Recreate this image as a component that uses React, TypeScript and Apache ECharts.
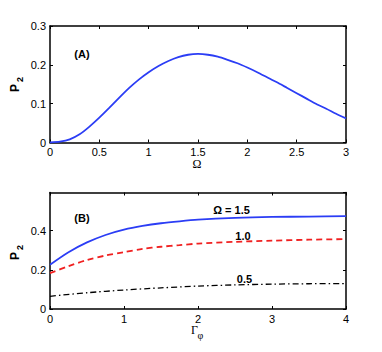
import React, { useEffect, useRef } from "react";
import * as echarts from "echarts";

// Panel (A): P2 vs Omega
const omegaValues = [0, 0.1, 0.2, 0.3, 0.4, 0.5, 0.6, 0.7, 0.8, 0.9, 1.0, 1.1, 1.2, 1.3, 1.4, 1.5, 1.6, 1.7, 1.8, 1.9, 2.0, 2.1, 2.2, 2.3, 2.4, 2.5, 2.6, 2.7, 2.8, 2.9, 3.0];
const p2VsOmega = [0, 0.002, 0.008, 0.021, 0.041, 0.064, 0.089, 0.115, 0.14, 0.162, 0.181, 0.197, 0.21, 0.22, 0.226, 0.228, 0.226, 0.221, 0.213, 0.204, 0.193, 0.181, 0.168, 0.155, 0.141, 0.127, 0.113, 0.099, 0.087, 0.074, 0.062];

// Panel (B): P2 vs Gamma_phi
const gammaValues = [0, 0.25, 0.5, 0.75, 1, 1.25, 1.5, 1.75, 2, 2.5, 3, 3.5, 4];
const p2Omega15 = [0.226, 0.29, 0.34, 0.378, 0.405, 0.424, 0.438, 0.448, 0.456, 0.465, 0.47, 0.472, 0.474];
const p2Omega10 = [0.183, 0.219, 0.25, 0.273, 0.29, 0.307, 0.318, 0.326, 0.334, 0.343, 0.349, 0.354, 0.357];
const gammaValuesLow = [0, 0.5, 1, 1.5, 2, 2.5, 3, 3.5, 4];
const p2Omega05 = [0.065, 0.083, 0.097, 0.108, 0.117, 0.123, 0.127, 0.129, 0.13];

const curveLabels = ["Ω = 1.5", "1.0", "0.5"];

const FONT = "Liberation Sans, Arial, Helvetica, sans-serif";
const SERIF = "Liberation Serif, Times New Roman, serif";

function pairs(xs: number[], ys: number[]) {
  return xs.map((x, i) => [x, ys[i]]);
}

function xAxes(gridIndex: number, min: number, max: number, interval: number) {
  const base = {
    type: "value" as const,
    gridIndex,
    min,
    max,
    interval,
    splitLine: { show: false },
    axisLine: { onZero: false, lineStyle: { color: "#000", width: 1.5 } },
    axisTick: { inside: true, length: 3, lineStyle: { color: "#000", width: 1 } },
  };
  return [
    {
      ...base,
      position: "bottom",
      axisLabel: { color: "#000", fontSize: 11, fontFamily: FONT, margin: 4 },
    },
    { ...base, position: "top", axisLabel: { show: false } },
  ];
}

function yAxes(gridIndex: number, min: number, max: number, interval: number) {
  const fmt = (v: number) => {
    const k = v / interval;
    return Math.abs(k - Math.round(k)) < 1e-6 ? String(+v.toFixed(2)) : "";
  };
  const base = {
    type: "value" as const,
    gridIndex,
    min,
    max,
    interval,
    splitLine: { show: false },
    axisLine: { onZero: false, lineStyle: { color: "#000", width: 1.5 } },
    axisTick: { inside: true, length: 3, lineStyle: { color: "#000", width: 1 } },
  };
  return [
    {
      ...base,
      position: "left",
      axisLabel: { color: "#000", fontSize: 11, fontFamily: FONT, margin: 4, formatter: fmt, showMaxLabel: true },
    },
    { ...base, position: "right", axisLabel: { show: false } },
  ];
}

export default function App() {
  const ref = useRef<HTMLDivElement>(null);

  useEffect(() => {
    if (!ref.current) return;
    const chart = echarts.init(ref.current, undefined, { renderer: "svg" });
    const xA = xAxes(0, 0, 3, 0.5);
    const xB = xAxes(1, 0, 4, 1);
    const yA = yAxes(0, 0, 0.3, 0.1);
    const yB = yAxes(1, 0, 0.595, 0.2);
    (yB[0] as any).axisLabel.showMaxLabel = false;

    const text = (x: number, y: number, t: string, opts: any = {}) => ({
      type: "text",
      x,
      y,
      rotation: opts.rotation || 0,
      style: {
        text: t,
        x: 0,
        y: 0,
        fill: "#000",
        font: opts.font || `bold 11px ${FONT}`,
        align: "center",
        verticalAlign: "middle",
      },
      silent: true,
    });

    chart.setOption({
      animation: false,
      backgroundColor: "#fff",
      grid: [
        { left: 50, top: 26, width: 296, height: 116.5 },
        { left: 50, top: 192.5, width: 296, height: 116.5 },
      ],
      xAxis: [...xA, ...xB],
      yAxis: [...yA, ...yB],
      series: [
        {
          type: "line",
          xAxisIndex: 0,
          yAxisIndex: 0,
          data: pairs(omegaValues, p2VsOmega),
          showSymbol: false,
          smooth: 0.2,
          lineStyle: { color: "#2b3df5", width: 1.8 },
        },
        {
          type: "line",
          xAxisIndex: 2,
          yAxisIndex: 2,
          data: pairs(gammaValues, p2Omega15),
          showSymbol: false,
          smooth: 0.3,
          lineStyle: { color: "#2b3df5", width: 1.8 },
        },
        {
          type: "line",
          xAxisIndex: 2,
          yAxisIndex: 2,
          data: pairs(gammaValues, p2Omega10),
          showSymbol: false,
          smooth: 0.3,
          lineStyle: { color: "#f02020", width: 1.8, type: [6, 4] },
        },
        {
          type: "line",
          xAxisIndex: 2,
          yAxisIndex: 2,
          data: pairs(gammaValuesLow, p2Omega05),
          showSymbol: false,
          smooth: 0.3,
          lineStyle: { color: "#000", width: 1.3, type: [6, 3, 1.5, 3] },
        },
      ],
      graphic: [
        text(82, 54, "(A)"),
        text(82, 218, "(B)"),
        // y-axis names P_2
        text(14.5, 88, "P", { rotation: Math.PI / 2, font: `bold 12px ${FONT}` }),
        text(20, 79.5, "2", { rotation: Math.PI / 2, font: `bold 9px ${FONT}` }),
        text(14.5, 256, "P", { rotation: Math.PI / 2, font: `bold 12px ${FONT}` }),
        text(20, 247.5, "2", { rotation: Math.PI / 2, font: `bold 9px ${FONT}` }),
        // x-axis names
        text(197, 164, "Ω", { font: `12px ${SERIF}` }),
        text(194.5, 329.5, "Γ", { font: `12px ${SERIF}` }),
        text(200.5, 335.5, "φ", { font: `10px ${SERIF}` }),
        // curve labels
        text(231.5, 209.5, curveLabels[0]),
        text(243, 236, curveLabels[1]),
        text(244.5, 279, curveLabels[2]),
      ],
    });
    return () => chart.dispose();
  }, []);

  return (
    <div
      ref={ref}
      style={{ position: "fixed", left: 0, top: 0, width: 382, height: 352, background: "#fff" }}
    />
  );
}
